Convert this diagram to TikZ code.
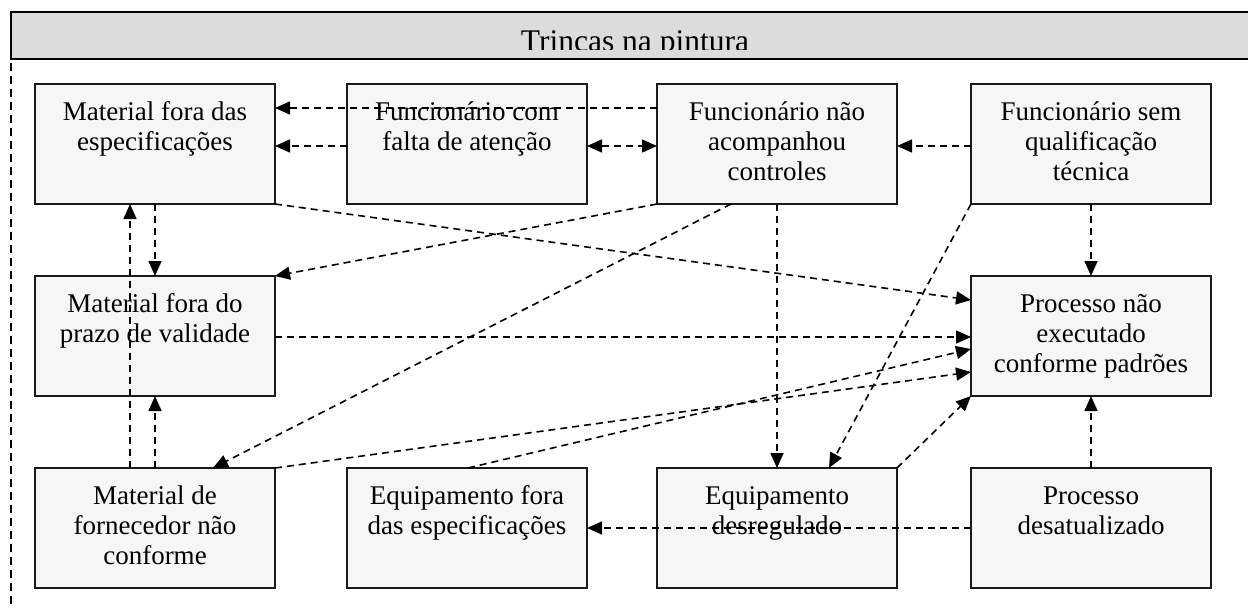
\documentclass[tikz,border=0pt]{standalone}
\usepackage{fontspec}
\setmainfont{Liberation Serif}
\usetikzlibrary{arrows.meta,calc}
\definecolor{boxfill}{HTML}{F6F6F6}
\definecolor{titlefill}{HTML}{DCDCDC}
\definecolor{edge}{HTML}{1A1A1A}
\begin{document}
\begin{tikzpicture}[x=1pt,y=-1pt,
  box/.style={draw=edge, line width=1.8pt, fill=boxfill, minimum width=240pt, minimum height=120pt, inner sep=0pt, outer sep=0pt},
  txt/.style={anchor=north, align=center, inner sep=0pt, font=\fontsize{27}{30}\selectfont},
  tip/.style={},
  conn/.style={line width=1.6pt, dash pattern=on 7pt off 5pt, -{Triangle[length=15pt,width=13pt]}},
  conn2/.style={line width=1.6pt, dash pattern=on 7pt off 5pt, {Triangle[length=15pt,width=13pt]}-{Triangle[length=15pt,width=13pt]}}
]
\useasboundingbox (0,0) rectangle (1248,608);
% title bar
\fill[titlefill] (11,12) rectangle (1260,59);
\begin{scope}
\clip (11,12) rectangle (1260,49);
\node[anchor=base, inner sep=0pt, font=\fontsize{31.5}{36}\selectfont] (title) at (635,51) {Trincas na pintura};
\end{scope}
\draw[line width=1.6pt] (1260,12) -- (11,12) -- (11,59) -- (1260,59);
\draw[line width=1.5pt, dash pattern=on 8pt off 5pt] (11,63) coordinate (ls) -- (11,606) coordinate (le);

% boxes
\node[box] (A) at (155,144) {};
\node[box] (B) at (467,144) {};
\node[box] (C) at (777,144) {};
\node[box] (D) at (1091,144) {};
\node[box] (F) at (155,336) {};
\node[box] (E) at (1091,336) {};
\node[box] (G) at (155,528) {};
\node[box] (H) at (467,528) {};
\node[box] (I) at (777,528) {};
\node[box] (J) at (1091,528) {};

% texts
\node[txt] (At) at ([yshift=-15pt]A.north) {\strut Material fora das\\especificações};
\node[txt] (Bt) at ([yshift=-15pt]B.north) {\strut Funcionário com\\falta de atenção};
\node[txt] (Ct) at ([yshift=-15pt]C.north) {\strut Funcionário não\\acompanhou\\controles};
\node[txt] (Dt) at ([yshift=-15pt]D.north) {\strut Funcionário sem\\qualificação\\técnica};
\node[txt] (Ft) at ([yshift=-15pt]F.north) {\strut Material fora do\\prazo de validade};
\node[txt] (Et) at ([yshift=-15pt]E.north) {\strut Processo não\\executado\\conforme padrões};
\node[txt] (Gt) at ([yshift=-15pt]G.north) {\strut Material de\\fornecedor não\\conforme};
\node[txt] (Ht) at ([yshift=-15pt]H.north) {\strut Equipamento fora\\das especificações};
\node[txt] (It) at ([yshift=-15pt]I.north) {\strut Equipamento\\desregulado};
\node[txt] (Jt) at ([yshift=-15pt]J.north) {\strut Processo\\desatualizado};

% connectors
\draw[conn] ($(C.north west)+(0,24)$) -- ($(A.north east)+(0,24)$);
\draw[conn] ($(B.north west)+(0,62)$) -- ($(A.north east)+(0,62)$);
\draw[conn2] ($(B.north east)+(0,62)$) -- ($(C.north west)+(0,62)$);
\draw[conn] ($(D.north west)+(0,62)$) -- ($(C.north east)+(0,62)$);
\draw[conn] (D.south) -- (E.north);
\draw[conn] (A.south) -- (F.north);
\draw[conn] ($(G.north west)+(95,0)$) -- ($(A.south west)+(95,0)$);
\draw[conn] (G.north) -- (F.south);
\draw[conn] (C.south west) -- (F.north east);
\draw[conn] ($(C.south west)+(74,0)$) -- ($(G.north west)+(178,0)$);
\draw[conn] (C.south) -- (I.north);
\draw[conn] (D.south west) -- ($(I.north west)+(172,0)$);
\draw[conn] (A.south east) -- ($(E.north west)+(0,24)$);
\draw[conn] ($(F.north east)+(0,61)$) -- ($(E.north west)+(0,61)$);
\draw[conn] ($(H.north west)+(121,0)$) -- ($(E.north west)+(0,73)$);
\draw[conn] (G.north east) -- ($(E.north west)+(0,96)$);
\draw[conn] (I.north east) -- (E.south west);
\draw[conn] (J.north) -- (E.south);
\draw[conn] ($(J.north west)+(0,60)$) -- ($(H.north east)+(0,60)$);
\end{tikzpicture}
\end{document}
